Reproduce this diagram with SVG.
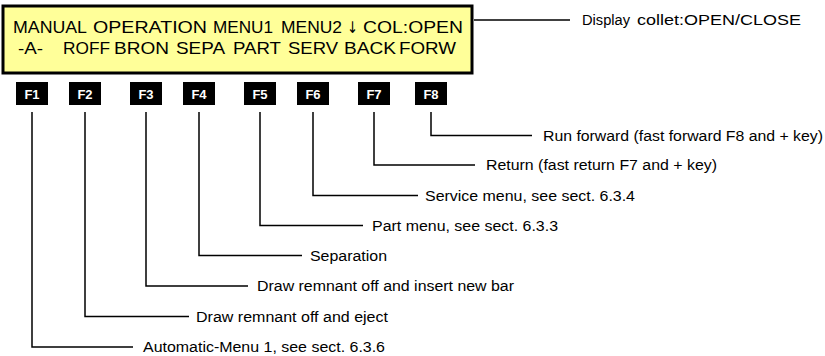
<svg xmlns="http://www.w3.org/2000/svg" width="825" height="356" viewBox="0 0 825 356">
<style>
.lcd{font-family:"Liberation Sans",Arial,sans-serif;font-size:17px;fill:#000}
.arr{font-family:"DejaVu Sans",sans-serif;font-size:16px;fill:#000}
.key rect{fill:#000}
.key text{font-family:"Liberation Sans",Arial,sans-serif;font-size:13px;font-weight:bold;fill:#fff;text-anchor:middle}
.lbl{font-family:"Liberation Sans",Arial,sans-serif;font-size:14px;fill:#000}
.con{fill:none;stroke:#000;stroke-width:1.5}
</style>
<rect width="825" height="356" fill="#fff"/>
<g id="display">
<rect x="3" y="6" width="469" height="67" fill="#FFFF99" stroke="#000" stroke-width="3"/>
<text class="lcd" x="13" y="32.5" textLength="74" lengthAdjust="spacingAndGlyphs">MANUAL</text>
<text class="lcd" x="93" y="32.5" textLength="114" lengthAdjust="spacingAndGlyphs">OPERATION</text>
<text class="lcd" x="213" y="32.5" textLength="60" lengthAdjust="spacingAndGlyphs">MENU1</text>
<text class="lcd" x="281" y="32.5" textLength="61" lengthAdjust="spacingAndGlyphs">MENU2</text>
<text class="arr" x="347" y="32.5" textLength="11" lengthAdjust="spacingAndGlyphs">↓</text>
<text class="lcd" x="363" y="32.5" textLength="100" lengthAdjust="spacingAndGlyphs">COL:OPEN</text>
<text class="lcd" x="18" y="53.5" textLength="25" lengthAdjust="spacingAndGlyphs">-A-</text>
<text class="lcd" x="63" y="53.5" textLength="47" lengthAdjust="spacingAndGlyphs">ROFF</text>
<text class="lcd" x="114" y="53.5" textLength="55" lengthAdjust="spacingAndGlyphs">BRON</text>
<text class="lcd" x="176" y="53.5" textLength="49" lengthAdjust="spacingAndGlyphs">SEPA</text>
<text class="lcd" x="233" y="53.5" textLength="48" lengthAdjust="spacingAndGlyphs">PART</text>
<text class="lcd" x="288" y="53.5" textLength="50" lengthAdjust="spacingAndGlyphs">SERV</text>
<text class="lcd" x="344" y="53.5" textLength="52" lengthAdjust="spacingAndGlyphs">BACK</text>
<text class="lcd" x="399" y="53.5" textLength="57" lengthAdjust="spacingAndGlyphs">FORW</text>
</g>
<g id="display-label">
<text x="582" y="25" font-family="Liberation Sans, Arial, sans-serif"><tspan font-size="14" textLength="48" lengthAdjust="spacingAndGlyphs">Display</tspan><tspan x="637" font-size="15" textLength="164" lengthAdjust="spacingAndGlyphs">collet:OPEN/CLOSE</tspan></text>
</g>
<g id="F1" class="key"><rect x="16" y="82" width="32" height="23"/><text x="32" y="98.5">F1</text></g>
<g id="F2" class="key"><rect x="69" y="82" width="32" height="23"/><text x="85" y="98.5">F2</text></g>
<g id="F3" class="key"><rect x="130" y="82" width="32" height="23"/><text x="146" y="98.5">F3</text></g>
<g id="F4" class="key"><rect x="183" y="82" width="32" height="23"/><text x="199" y="98.5">F4</text></g>
<g id="F5" class="key"><rect x="244" y="82" width="32" height="23"/><text x="260" y="98.5">F5</text></g>
<g id="F6" class="key"><rect x="297" y="82" width="32" height="23"/><text x="313" y="98.5">F6</text></g>
<g id="F7" class="key"><rect x="358" y="82" width="32" height="23"/><text x="374" y="98.5">F7</text></g>
<g id="F8" class="key"><rect x="415" y="82" width="32" height="23"/><text x="431" y="98.5">F8</text></g>
<g id="connectors">
<path class="con" d="M474 20H570"/>
<path class="con" d="M431 112V135.5H532"/>
<path class="con" d="M374 112V165H475"/>
<path class="con" d="M313 112V195.5H418"/>
<path class="con" d="M260 112V225.5H363"/>
<path class="con" d="M199 112V255.5H302"/>
<path class="con" d="M146 112V286H248"/>
<path class="con" d="M85 112V316.5H189"/>
<path class="con" d="M32 112V347H133"/>
</g>
<g id="labels">
<text class="lbl" x="543" y="140.5" textLength="280" lengthAdjust="spacingAndGlyphs">Run forward (fast forward F8 and + key)</text>
<text class="lbl" x="486" y="170" textLength="231" lengthAdjust="spacingAndGlyphs">Return (fast return F7 and + key)</text>
<text class="lbl" x="425" y="200.5" textLength="210" lengthAdjust="spacingAndGlyphs">Service menu, see sect. 6.3.4</text>
<text class="lbl" x="372" y="230.5" textLength="186" lengthAdjust="spacingAndGlyphs">Part menu, see sect. 6.3.3</text>
<text class="lbl" x="310" y="260.5" textLength="77" lengthAdjust="spacingAndGlyphs">Separation</text>
<text class="lbl" x="257" y="291" textLength="257" lengthAdjust="spacingAndGlyphs">Draw remnant off and insert new bar</text>
<text class="lbl" x="196" y="321.5" textLength="192" lengthAdjust="spacingAndGlyphs">Draw remnant off and eject</text>
<text class="lbl" x="143" y="352" textLength="242" lengthAdjust="spacingAndGlyphs">Automatic-Menu 1, see sect. 6.3.6</text>
</g>
</svg>
